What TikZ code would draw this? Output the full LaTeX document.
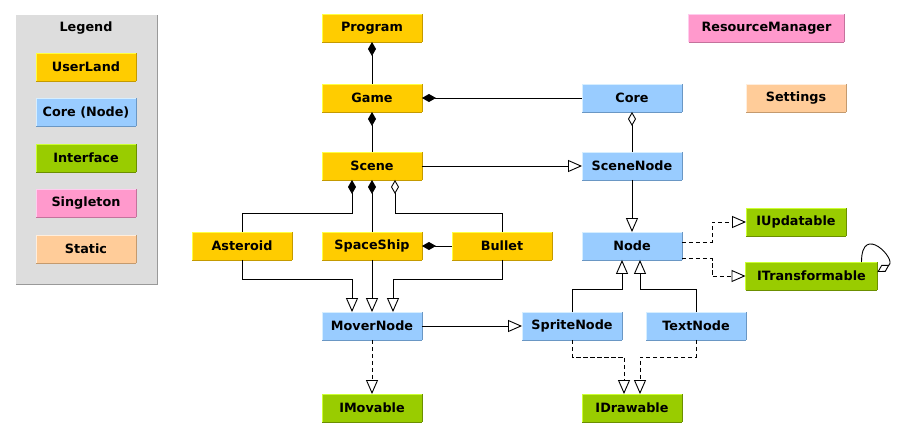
\documentclass[tikz,border=0pt]{standalone}
\usepackage{fontspec}
\setmainfont{DejaVu Sans}
\usetikzlibrary{arrows.meta}

\definecolor{userfill}{HTML}{FFCC00}
\definecolor{userlight}{HTML}{FFFF44}
\definecolor{userdark}{HTML}{C49A00}
\definecolor{corefill}{HTML}{99CCFF}
\definecolor{corelight}{HTML}{D6EEFF}
\definecolor{coredark}{HTML}{6A97C4}
\definecolor{ifacefill}{HTML}{99CC00}
\definecolor{ifacelight}{HTML}{CCFF33}
\definecolor{ifacedark}{HTML}{6B8F00}
\definecolor{singlefill}{HTML}{FF99CC}
\definecolor{singlelight}{HTML}{FFCCEE}
\definecolor{singledark}{HTML}{C4729C}
\definecolor{staticfill}{HTML}{FFCC99}
\definecolor{staticlight}{HTML}{FFEEDD}
\definecolor{staticdark}{HTML}{C49A6E}
\definecolor{legendfill}{HTML}{DDDDDD}
\definecolor{legendedge}{HTML}{999999}

\tikzset{
  cls/.style n args={3}{fill=#1, minimum width=99pt, minimum height=27pt,
    inner sep=0pt, font=\bfseries\fontsize{12.8}{14}\selectfont,
    append after command={
      (\tikzlastnode.north west) edge[draw=#2] (\tikzlastnode.north east)
      (\tikzlastnode.north west) edge[draw=#2] (\tikzlastnode.south west)
      (\tikzlastnode.south west) edge[draw=#3] (\tikzlastnode.south east)
      (\tikzlastnode.south east) edge[draw=#3] (\tikzlastnode.north east)}},
  userbox/.style={cls={userfill}{userlight}{userdark}},
  corebox/.style={cls={corefill}{corelight}{coredark}},
  ifacebox/.style={cls={ifacefill}{ifacelight}{ifacedark}},
  singlebox/.style={cls={singlefill}{singlelight}{singledark}},
  staticbox/.style={cls={staticfill}{staticlight}{staticdark}},
  comp/.style={{Diamond[length=14pt,width=8pt]}-},
  aggr/.style={{Diamond[open,length=14pt,width=8pt,fill=white]}-},
  inh/.style={-{Triangle[open,length=14pt,width=12pt,fill=white]}},
  real/.style={inh, dash pattern=on 4.5pt off 2.5pt},
}

\begin{document}
\begin{tikzpicture}[x=1pt,y=-1pt,line width=0.9pt]
\useasboundingbox (0,0) rectangle (905,437);

% legend
\fill[legendfill] (16,15) rectangle (157,284);
\draw[legendedge] (157,15) -- (157,284) -- (16,284);
\node[font=\bfseries\fontsize{12.8}{14}\selectfont] (legendtitle) at (86,28) {Legend};
\node[userbox] (leguser) at (86,67) {UserLand};
\node[corebox] (legcore) at (86,112) {Core (Node)};
\node[ifacebox] (legiface) at (86,158) {Interface};
\node[singlebox] (legsingle) at (86,203) {Singleton};
\node[staticbox] (legstatic) at (86,249) {Static};

% userland classes
\node[userbox] (program) at (372,28) {Program};
\node[userbox] (game) at (372,98) {Game};
\node[userbox] (scene) at (372,166) {Scene};
\node[userbox] (asteroid) at (242,246) {Asteroid};
\node[userbox] (spaceship) at (372,246) {SpaceShip};
\node[userbox] (bullet) at (502,246) {Bullet};

% core classes
\node[corebox] (core) at (632,98) {Core};
\node[corebox] (scenenode) at (632,166) {SceneNode};
\node[corebox] (basenode) at (632,246) {Node};
\node[corebox] (mover) at (372,326) {MoverNode};
\node[corebox] (sprite) at (572,326) {SpriteNode};
\node[corebox] (text) at (696,326) {TextNode};

% interfaces
\node[ifacebox] (imovable) at (372,408) {IMovable};
\node[ifacebox] (idrawable) at (632,408) {IDrawable};
\node[ifacebox] (iupdatable) at (796,222) {IUpdatable};
\node[ifacebox, minimum width=131pt] (itransform) at (811.5,276) {ITransformable};

% singleton / static
\node[singlebox, minimum width=155pt] (resmgr) at (766.5,28) {ResourceManager};
\node[staticbox] (settings) at (796,98) {Settings};

% composition / aggregation
\draw[comp] (program) -- (game);
\draw[comp] (game) -- (scene);
\draw[comp] (game) -- (core);
\draw[aggr] (core) -- (scenenode);
\draw[comp] ([xshift=-20pt]scene.south) -- ++(0,33) -| (asteroid.north);
\draw[comp] (scene) -- (spaceship);
\draw[aggr] ([xshift=23pt]scene.south) -- ++(0,33) -| (bullet.north);
\draw[comp] (spaceship) -- (bullet);

% inheritance
\draw[inh] (scene) -- (scenenode);
\draw[inh] (scenenode) -- (basenode);
\draw[inh] (asteroid.south) -- ++(0,19) -| ([xshift=-20pt]mover.north);
\draw[inh] (spaceship) -- (mover);
\draw[inh] (bullet.south) -- ++(0,19) -| ([xshift=21pt]mover.north);
\draw[inh] (mover) -- (sprite);
\draw[inh] (sprite.north) -- ++(0,-23) -| ([xshift=-10pt]basenode.south);
\draw[inh] (text.north) -- ++(0,-23) -| ([xshift=8pt]basenode.south);

% interface realisation
\draw[real] (mover) -- (imovable);
\draw[real] (sprite.south) -- ++(0,17) -| ([xshift=-8pt]idrawable.north);
\draw[real] (text.south) -- ++(0,17) -| ([xshift=8pt]idrawable.north);
\draw[real] ([yshift=4pt]basenode.east) -- ++(30,0) |- (iupdatable.west);
\draw[real] ([yshift=-12pt]basenode.east) -- ++(30,0) |- (itransform.west);

% self loop
\coordinate (loopa) at ([yshift=4pt]itransform.east);
\coordinate (loopb) at ([xshift=50pt]itransform.north);
\draw[aggr] (loopa) .. controls ([shift={(20pt,12pt)}]loopa) and ([shift={(0pt,40pt)}]loopb) .. (loopb);
\end{tikzpicture}
\end{document}
